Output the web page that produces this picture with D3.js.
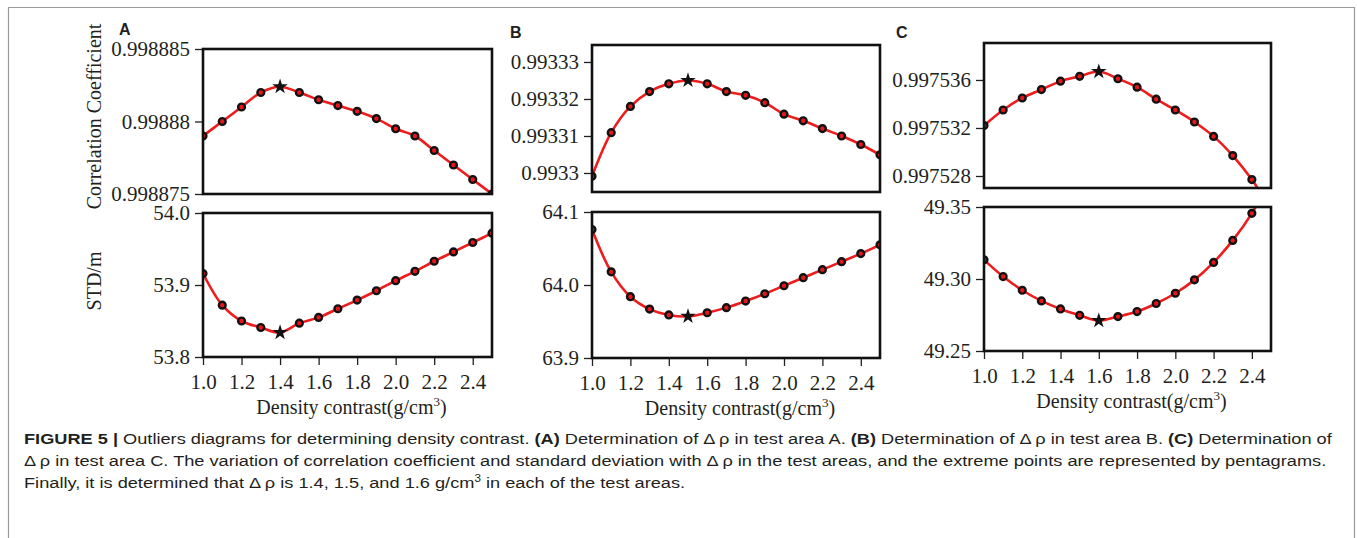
<!DOCTYPE html>
<html>
<head>
<meta charset="utf-8">
<script src="https://cdn.jsdelivr.net/npm/d3@7/dist/d3.min.js"></script>
<style>
  body { margin: 0; background: #fff; }
  .serif { font-family: "Liberation Serif", "Times New Roman", serif; fill: #231f20; }
  .sans { font-family: "Liberation Sans", Arial, sans-serif; fill: #231f20; }
</style>
</head>
<body>
<svg id="fig" width="1357" height="538"></svg>
<script>
// density contrast (g/cm3), same for every panel
var density = [1.0, 1.1, 1.2, 1.3, 1.4, 1.5, 1.6, 1.7, 1.8, 1.9, 2.0, 2.1, 2.2, 2.3, 2.4, 2.5];

// test area A
var corrA = [0.998879, 0.99888, 0.998881, 0.998882, 0.9988824, 0.998882, 0.9988815, 0.9988811,
             0.9988807, 0.9988802, 0.9988795, 0.998879, 0.998878, 0.998877, 0.998876, 0.998875];
var stdA = [53.916, 53.872, 53.850, 53.841, 53.834, 53.847, 53.855, 53.867,
            53.879, 53.892, 53.906, 53.919, 53.933, 53.946, 53.959, 53.972];

// test area B
var corrB = [0.9932991, 0.9933109, 0.993318, 0.993322, 0.9933241, 0.993325, 0.9933241, 0.993322,
             0.993321, 0.993319, 0.9933159, 0.9933141, 0.993312, 0.99331, 0.9933077, 0.9933049];
var stdB = [64.076, 64.018, 63.984, 63.967, 63.959, 63.957, 63.962, 63.969,
            63.978, 63.988, 63.999, 64.010, 64.021, 64.032, 64.043, 64.055];

// test area C
var corrC = [0.9975322, 0.9975335, 0.9975345, 0.9975352, 0.9975359, 0.9975363, 0.9975367, 0.9975361,
             0.9975354, 0.9975344, 0.9975335, 0.9975325, 0.9975313, 0.9975297, 0.9975277, 0.9975252];
var stdC = [49.3133, 49.3017, 49.2922, 49.2848, 49.2792, 49.2748, 49.2711, 49.2739,
            49.2774, 49.2830, 49.2901, 49.2994, 49.3115, 49.3268, 49.3456, 49.370];

// ticks
var xTicks = [1.0, 1.2, 1.4, 1.6, 1.8, 2.0, 2.2, 2.4];
var xTickLabels = ["1.0", "1.2", "1.4", "1.6", "1.8", "2.0", "2.2", "2.4"];
var corrTicksA = [0.998875, 0.99888, 0.998885];
var corrLabelsA = ["0.998875", "0.99888", "0.998885"];
var stdTicksA = [53.8, 53.9, 54.0];
var stdLabelsA = ["53.8", "53.9", "54.0"];
var corrTicksB = [0.9933, 0.99331, 0.99332, 0.99333];
var corrLabelsB = ["0.9933", "0.99331", "0.99332", "0.99333"];
var stdTicksB = [63.9, 64.0, 64.1];
var stdLabelsB = ["63.9", "64.0", "64.1"];
var corrTicksC = [0.997528, 0.997532, 0.997536];
var corrLabelsC = ["0.997528", "0.997532", "0.997536"];
var stdTicksC = [49.25, 49.30, 49.35];
var stdLabelsC = ["49.25", "49.30", "49.35"];

var svg = d3.select("#fig");

// outer figure border (open at the bottom)
svg.append("path")
  .attr("d", "M8.5,538V7.5H1354.5V538")
  .attr("fill", "none")
  .attr("stroke", "#9a9a9a")
  .attr("stroke-width", 1.2);

var panels = [
  { name: "A", left: 203, right: 492, top: [49, 194], bottom: [213, 357],
    corr: corrA, std: stdA, corrDomain: [0.998875, 0.998885], stdDomain: [53.8, 54.0],
    corrTicks: corrTicksA, corrLabels: corrLabelsA, stdTicks: stdTicksA, stdLabels: stdLabelsA,
    labelPos: [119, 35], yTitles: true },
  { name: "B", left: 592, right: 880, top: [45, 192], bottom: [212, 358],
    corr: corrB, std: stdB, corrDomain: [0.99329486, 0.99333459], stdDomain: [63.9, 64.1],
    corrTicks: corrTicksB, corrLabels: corrLabelsB, stdTicks: stdTicksB, stdLabels: stdLabelsB,
    labelPos: [510, 38], yTitles: false },
  { name: "C", left: 984, right: 1271, top: [43, 188], bottom: [207, 351],
    corr: corrC, std: stdC, corrDomain: [0.997527, 0.99753908], stdDomain: [49.25, 49.35],
    corrTicks: corrTicksC, corrLabels: corrLabelsC, stdTicks: stdTicksC, stdLabels: stdLabelsC,
    labelPos: [896, 38], yTitles: false }
];

var clipCount = 0;

function drawBox(x, y0, y1, values, domain, ticks, labels, findExtreme, withXAxis) {
  var y = d3.scaleLinear().domain(domain).range([y1, y0]);
  var left = x.range()[0], right = x.range()[1];

  var clipId = "clip" + (clipCount++);
  svg.append("clipPath").attr("id", clipId)
    .append("rect")
      .attr("x", left).attr("y", y0)
      .attr("width", right - left).attr("height", y1 - y0);

  // y axis
  var yAxis = svg.append("g")
    .attr("class", "serif")
    .attr("transform", "translate(" + left + ",0)")
    .call(d3.axisLeft(y).tickValues(ticks).tickSize(8).tickPadding(5)
      .tickFormat(function(d, i) { return labels[i]; }));
  yAxis.select(".domain").remove();
  yAxis.selectAll("line").attr("stroke", "#231f20").attr("stroke-width", 1.3);
  yAxis.selectAll("text").attr("font-size", 21).attr("fill", "#231f20")
    .attr("font-family", "Liberation Serif, Times New Roman, serif");

  if (withXAxis) {
    var xAxis = svg.append("g")
      .attr("class", "serif")
      .attr("transform", "translate(0," + y1 + ")")
      .call(d3.axisBottom(x).tickValues(xTicks).tickSize(8).tickPadding(9)
        .tickFormat(function(d, i) { return xTickLabels[i]; }));
    xAxis.select(".domain").remove();
    xAxis.selectAll("line").attr("stroke", "#231f20").attr("stroke-width", 1.3);
    xAxis.selectAll("text").attr("font-size", 21).attr("fill", "#231f20")
      .attr("font-family", "Liberation Serif, Times New Roman, serif");

    var xl = svg.append("text")
      .attr("class", "serif")
      .attr("x", (left + right) / 2 + 4)
      .attr("y", y1 + 57)
      .attr("text-anchor", "middle")
      .attr("font-size", 20);
    xl.append("tspan").text("Density contrast(g/cm");
    xl.append("tspan").attr("dy", -8).attr("font-size", 13).text("3");
    xl.append("tspan").attr("dy", 8).text(")");
  }

  var pts = density.map(function(d, i) { return { x: d, v: values[i] }; });
  var ext = findExtreme(values);

  var g = svg.append("g").attr("clip-path", "url(#" + clipId + ")");

  var line = d3.line()
    .x(function(d) { return x(d.x); })
    .y(function(d) { return y(d.v); })
    .curve(d3.curveCatmullRom.alpha(0.5));

  g.append("path")
    .attr("d", line(pts))
    .attr("fill", "none")
    .attr("stroke", "#ee1c1c")
    .attr("stroke-width", 2.6);

  g.selectAll("circle")
    .data(pts.filter(function(d, i) { return i !== ext; }))
    .enter()
    .append("circle")
      .attr("cx", function(d) { return x(d.x); })
      .attr("cy", function(d) { return y(d.v); })
      .attr("r", 3.4)
      .attr("fill", "#e8161b")
      .attr("stroke", "#111")
      .attr("stroke-width", 2.4);

  // extreme point as a pentagram
  g.append("path")
    .attr("d", d3.symbol().type(d3.symbolStar).size(75)())
    .attr("transform", "translate(" + x(pts[ext].x) + "," + y(pts[ext].v) + ")")
    .attr("fill", "#111");

  // frame
  svg.append("rect")
    .attr("x", left).attr("y", y0)
    .attr("width", right - left).attr("height", y1 - y0)
    .attr("fill", "none")
    .attr("stroke", "#111")
    .attr("stroke-width", 2.6);
}

panels.forEach(function(p) {
  var x = d3.scaleLinear().domain([1.0, 2.5]).range([p.left, p.right]);

  drawBox(x, p.top[0], p.top[1], p.corr, p.corrDomain, p.corrTicks, p.corrLabels, d3.maxIndex, false);
  drawBox(x, p.bottom[0], p.bottom[1], p.std, p.stdDomain, p.stdTicks, p.stdLabels, d3.minIndex, true);

  svg.append("text")
    .attr("class", "sans")
    .attr("x", p.labelPos[0]).attr("y", p.labelPos[1])
    .attr("font-size", 16)
    .attr("font-weight", "bold")
    .text(p.name);

  if (p.yTitles) {
    svg.append("text")
      .attr("class", "serif")
      .attr("transform", "translate(94," + ((p.top[0] + p.top[1]) / 2 - 5) + ") rotate(-90)")
      .attr("text-anchor", "middle")
      .attr("dominant-baseline", "central")
      .attr("font-size", 20)
      .text("Correlation Coefficient");
    svg.append("text")
      .attr("class", "serif")
      .attr("transform", "translate(94," + ((p.bottom[0] + p.bottom[1]) / 2 - 4) + ") rotate(-90)")
      .attr("text-anchor", "middle")
      .attr("dominant-baseline", "central")
      .attr("font-size", 20)
      .text("STD/m");
  }
});

// caption
var D = "\u0394\u2009\u03c1";
var captionLines = [
  [["FIGURE 5 | ", true], ["Outliers diagrams for determining density contrast. ", false], ["(A)", true],
   [" Determination of " + D + " in test area A. ", false], ["(B)", true],
   [" Determination of " + D + " in test area B. ", false], ["(C)", true], [" Determination of", false]],
  [[D + " in test area C. The variation of correlation coefficient and standard deviation with " + D +
    " in the test areas, and the extreme points are represented by pentagrams.", false]],
  [["Finally, it is determined that " + D + " is 1.4, 1.5, and 1.6 g/cm", false], ["3", false, true],
   [" in each of the test areas.", false]]
];
var captionY = [444, 466, 488];

var capGroups = captionLines.map(function(segs, li) {
  var t = svg.append("text")
    .attr("class", "sans")
    .attr("x", 0).attr("y", 0)
    .attr("font-size", 15.5)
    .attr("fill", "#333");
  var sup = false;
  segs.forEach(function(s) {
    var ts = t.append("tspan").text(s[0]);
    if (s[1]) ts.attr("font-weight", "bold").attr("fill", "#231f20");
    if (s[2]) { ts.attr("font-size", 10).attr("dy", -6); sup = true; }
    else if (sup) { ts.attr("dy", 6); sup = false; }
  });
  return t;
});

// the caption face is condensed: squeeze the lines so line 1 spans its width
var squeeze = 1309 / capGroups[0].node().getComputedTextLength();
capGroups.forEach(function(t, i) {
  t.attr("transform", "translate(24," + captionY[i] + ") scale(" + squeeze + ",1)");
});
</script>
</body>
</html>
